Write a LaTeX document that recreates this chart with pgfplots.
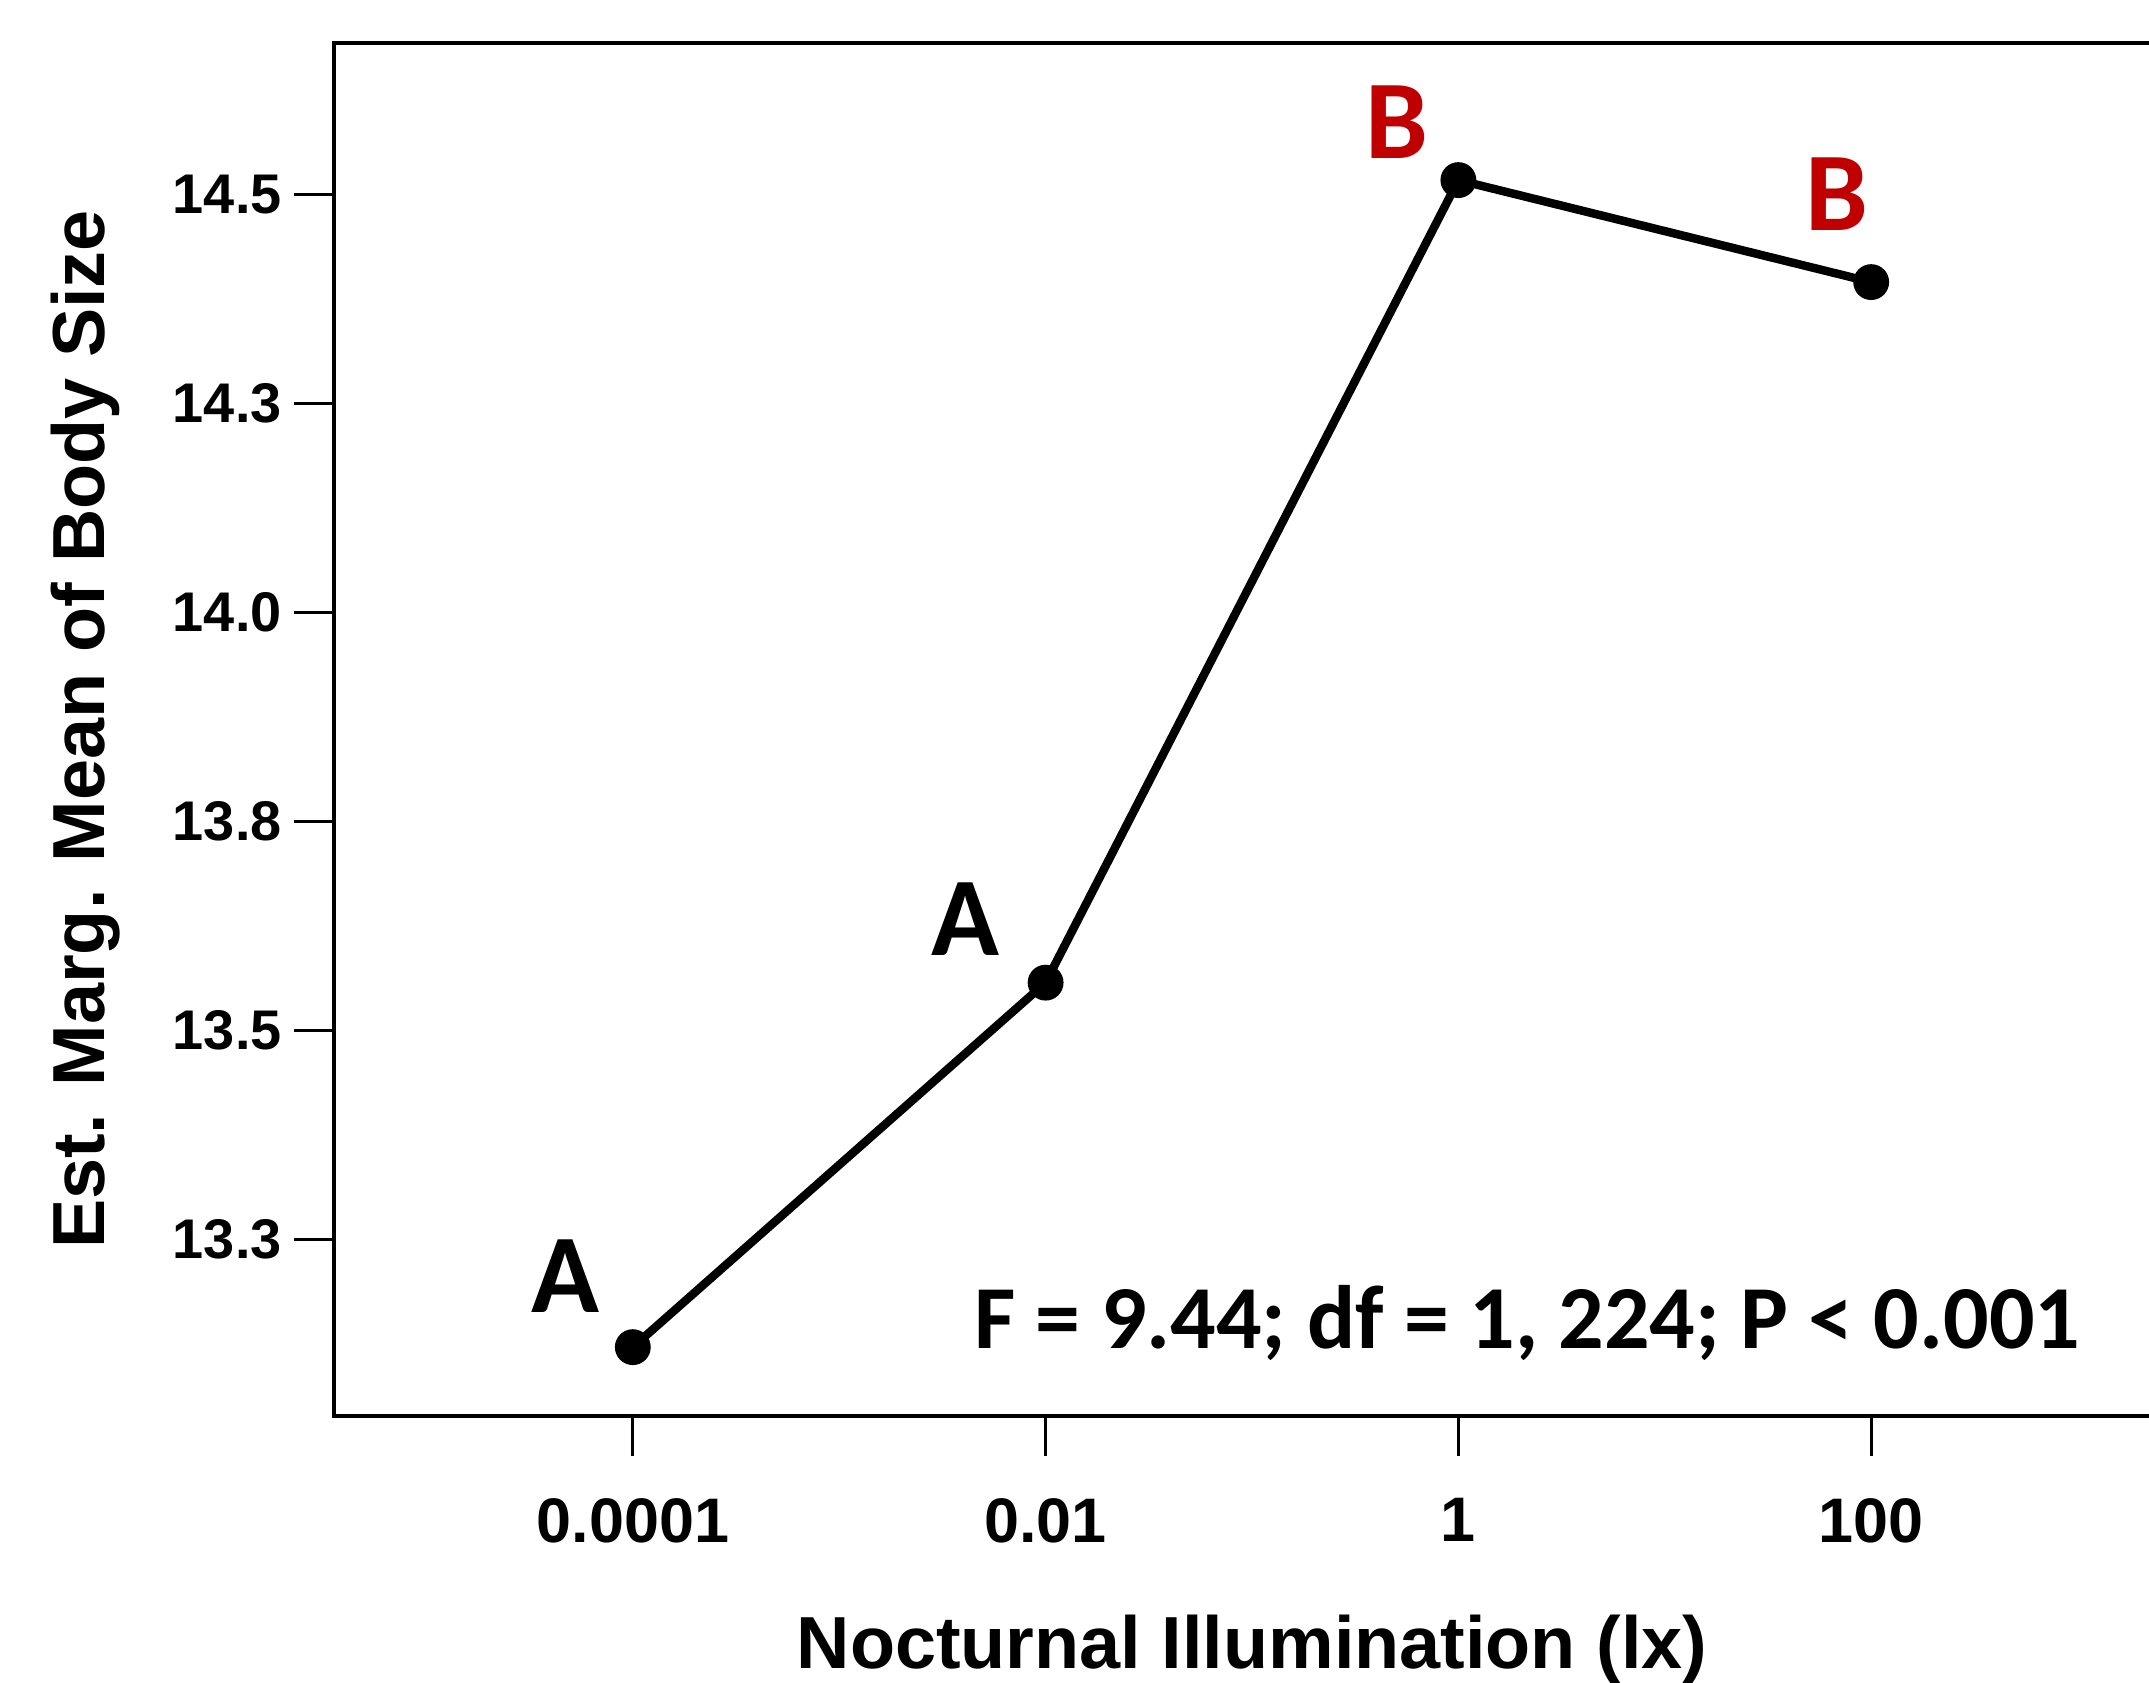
\documentclass[border=0pt]{standalone}
\usepackage{fontspec}
\setmainfont{Liberation Sans}
\newfontfamily\calibri{Carlito}
\usepackage{pgfplots}
\pgfplotsset{compat=1.18}
\definecolor{bred}{HTML}{C00000}
\begin{document}
\begin{tikzpicture}[x=1cm,y=1cm]
\begin{axis}[
  at={(0,0)}, anchor=south west,
  scale only axis, width=18.36cm, height=13.73cm,
  xmode=log, log basis x=10,
  xmin=3.565e-6, xmax=2805,
  ymin=13.0386, ymax=14.681,
  xtick={0.0001,0.01,1,100},
  xticklabels={0.0001,0.01,1,100},
  ytick={13.25,13.5,13.75,14,14.25,14.5},
  yticklabels={13.3,13.5,13.8,14.0,14.3,14.5},
  xminorticks=false, yminorticks=false,
  tick align=outside,
  tick pos=left,
  major tick length=0.4cm,
  every tick/.style={black, line width=0.85pt},
  axis line style={line width=1.3pt},
  /pgf/number format/assume math mode=true,
  xticklabel style={font=\bfseries\fontsize{17.9}{18}\selectfont, yshift=-0.30cm},
  yticklabel style={font=\bfseries\fontsize{15.9}{16}\selectfont},
  xlabel={Nocturnal Illumination (lx)},
  ylabel={Est. Marg. Mean of Body Size},
  xlabel style={at={(axis description cs:0.5,-0.18354)}, anchor=base, font=\bfseries\fontsize{21}{21}\selectfont},
  ylabel style={at={(axis description cs:-0.12473,0.5)}, rotate=0, anchor=base, font=\bfseries\fontsize{21}{21}\selectfont},
  clip=false,
]
\addplot[black, line width=2.4pt, mark=*, mark size=4.9pt, mark options={solid, line width=0.4pt}]
  coordinates {(0.0001,13.121) (0.01,13.557) (1,14.517) (100,14.395)};
\node[font=\calibri\bfseries\fontsize{31.9}{32}\selectfont, anchor=base, inner sep=0pt] at (axis cs:4.74e-5,13.163) {A};
\node[font=\calibri\bfseries\fontsize{31.9}{32}\selectfont, anchor=base, inner sep=0pt] at (axis cs:4.10e-3,13.590) {A};
\node[font=\calibri\bfseries\fontsize{31.9}{32}\selectfont, anchor=base, inner sep=0pt, text=bred] at (axis cs:0.5064,14.5434) {B};
\node[font=\calibri\bfseries\fontsize{31.9}{32}\selectfont, anchor=base, inner sep=0pt, text=bred] at (axis cs:68.4,14.457) {B};
\node[font=\calibri\bfseries\fontsize{25.6}{26}\selectfont, anchor=base west, inner sep=0pt] at (axis cs:4.48e-3,13.119) {F = 9.44; df = 1, 224; P < 0.001};
\end{axis}
\pgfresetboundingbox
\useasboundingbox (-3.34,-2.66) rectangle (18.15,14.16);
\end{tikzpicture}
\end{document}
